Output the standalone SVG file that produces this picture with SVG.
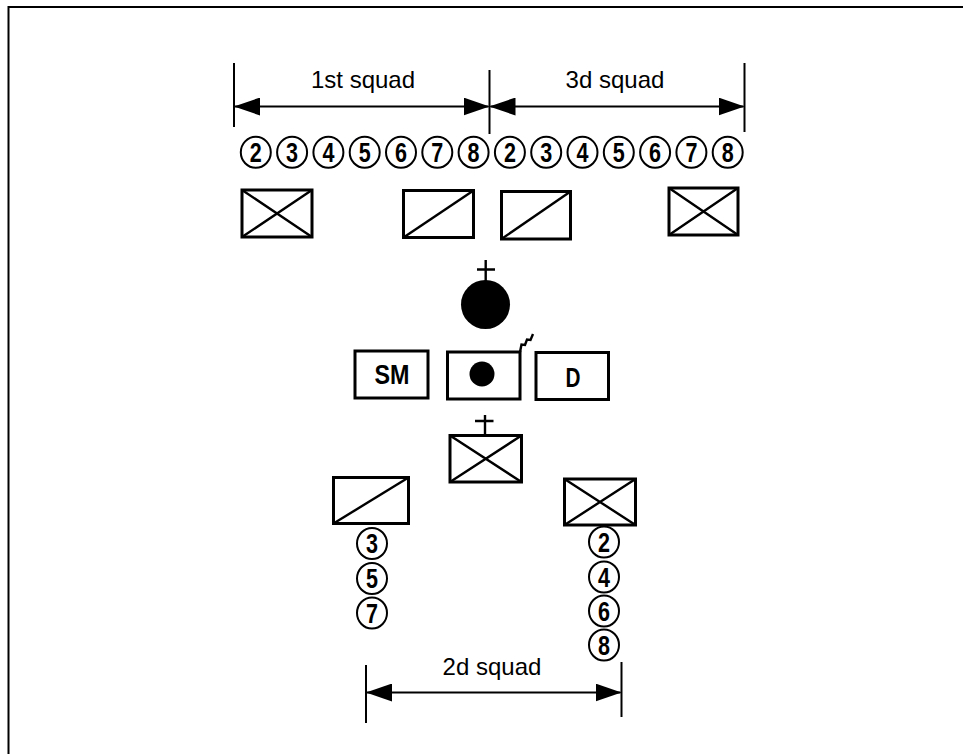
<svg xmlns="http://www.w3.org/2000/svg" width="963" height="754" viewBox="0 0 963 754">
<style>
.frame{fill:none;stroke:#000;stroke-width:2}
.box{fill:#fff;stroke:#000;stroke-width:3}
.diag{stroke:#000;stroke-width:2.4;fill:none}
.dim{stroke:#000;stroke-width:2;fill:none}
.lbl{font-family:"Liberation Sans",Arial,sans-serif;font-size:24px;text-anchor:middle;fill:#000}
.ring{fill:#fff;stroke:#000;stroke-width:2}
.dg{font-family:"Liberation Sans",Arial,sans-serif;font-weight:bold;font-size:27px;text-anchor:middle;fill:#000}
.bt{font-family:"Liberation Sans",Arial,sans-serif;font-weight:bold;font-size:27px;text-anchor:middle;fill:#000}
</style>
<defs>
<marker id="ah" markerUnits="userSpaceOnUse" markerWidth="26" markerHeight="18" refX="25" refY="9" orient="auto-start-reverse" viewBox="0 0 26 18">
<path d="M0,0 L26,9 L0,18 z" fill="#000"/>
</marker>
</defs>
<rect width="963" height="754" fill="#fff"/>
<path class="frame" d="M8.5,754 V7 H963"/>

<g id="connectors">
<line class="dim" x1="234" y1="63" x2="234" y2="127"/>
<line class="dim" x1="489.5" y1="70" x2="489.5" y2="134"/>
<line class="dim" x1="744.5" y1="63" x2="744.5" y2="132"/>
<line class="dim" x1="235" y1="106.5" x2="488.5" y2="106.5" marker-start="url(#ah)" marker-end="url(#ah)"/>
<line class="dim" x1="490.5" y1="106.5" x2="743.5" y2="106.5" marker-start="url(#ah)" marker-end="url(#ah)"/>
<line class="dim" x1="366" y1="665" x2="366" y2="723"/>
<line class="dim" x1="621.5" y1="662" x2="621.5" y2="717"/>
<line class="dim" x1="367" y1="692.5" x2="620.5" y2="692.5" marker-start="url(#ah)" marker-end="url(#ah)"/>
</g>

<g id="labels">
<text class="lbl" x="363" y="88">1st squad</text>
<text class="lbl" x="615" y="88">3d squad</text>
<text class="lbl" x="492" y="675">2d squad</text>
</g>

<g id="row-1st">
<ellipse class="ring" cx="255.8" cy="152.3" rx="15" ry="15.5"/><text class="dg" x="255.8" y="161.8" textLength="12" lengthAdjust="spacingAndGlyphs">2</text>
<ellipse class="ring" cx="292.1" cy="152.3" rx="15" ry="15.5"/><text class="dg" x="292.1" y="161.8" textLength="12" lengthAdjust="spacingAndGlyphs">3</text>
<ellipse class="ring" cx="328.4" cy="152.3" rx="15" ry="15.5"/><text class="dg" x="328.4" y="161.8" textLength="12" lengthAdjust="spacingAndGlyphs">4</text>
<ellipse class="ring" cx="364.7" cy="152.3" rx="15" ry="15.5"/><text class="dg" x="364.7" y="161.8" textLength="12" lengthAdjust="spacingAndGlyphs">5</text>
<ellipse class="ring" cx="401" cy="152.3" rx="15" ry="15.5"/><text class="dg" x="401" y="161.8" textLength="12" lengthAdjust="spacingAndGlyphs">6</text>
<ellipse class="ring" cx="437.3" cy="152.3" rx="15" ry="15.5"/><text class="dg" x="437.3" y="161.8" textLength="12" lengthAdjust="spacingAndGlyphs">7</text>
<ellipse class="ring" cx="473.6" cy="152.3" rx="15" ry="15.5"/><text class="dg" x="473.6" y="161.8" textLength="12" lengthAdjust="spacingAndGlyphs">8</text>
</g>
<g id="row-3d">
<ellipse class="ring" cx="509.9" cy="152.3" rx="15" ry="15.5"/><text class="dg" x="509.9" y="161.8" textLength="12" lengthAdjust="spacingAndGlyphs">2</text>
<ellipse class="ring" cx="546.2" cy="152.3" rx="15" ry="15.5"/><text class="dg" x="546.2" y="161.8" textLength="12" lengthAdjust="spacingAndGlyphs">3</text>
<ellipse class="ring" cx="582.5" cy="152.3" rx="15" ry="15.5"/><text class="dg" x="582.5" y="161.8" textLength="12" lengthAdjust="spacingAndGlyphs">4</text>
<ellipse class="ring" cx="618.8" cy="152.3" rx="15" ry="15.5"/><text class="dg" x="618.8" y="161.8" textLength="12" lengthAdjust="spacingAndGlyphs">5</text>
<ellipse class="ring" cx="655.1" cy="152.3" rx="15" ry="15.5"/><text class="dg" x="655.1" y="161.8" textLength="12" lengthAdjust="spacingAndGlyphs">6</text>
<ellipse class="ring" cx="691.4" cy="152.3" rx="15" ry="15.5"/><text class="dg" x="691.4" y="161.8" textLength="12" lengthAdjust="spacingAndGlyphs">7</text>
<ellipse class="ring" cx="727.7" cy="152.3" rx="15" ry="15.5"/><text class="dg" x="727.7" y="161.8" textLength="12" lengthAdjust="spacingAndGlyphs">8</text>
</g>

<g id="box-1">
<rect class="box" x="242" y="190" width="70" height="47"/>
<path class="diag" d="M242,190 L312,237 M242,237 L312,190"/>
</g>
<g id="box-2">
<rect class="box" x="403.5" y="190.5" width="70" height="47"/>
<path class="diag" d="M403.5,237.5 L473.5,190.5"/>
</g>
<g id="box-3">
<rect class="box" x="501.5" y="191.5" width="69" height="47.5"/>
<path class="diag" d="M501.5,239 L570.5,191.5"/>
</g>
<g id="box-4">
<rect class="box" x="669" y="188" width="69" height="47"/>
<path class="diag" d="M669,188 L738,235 M669,235 L738,188"/>
</g>

<g id="leader">
<circle cx="485.5" cy="304.5" r="24.5" fill="#000"/>
<path class="diag" d="M485.7,260 V281 M477,269.5 H495"/>
</g>

<g id="sm">
<rect class="box" x="355" y="351" width="73" height="47"/>
<text class="bt" x="392" y="384" textLength="35" lengthAdjust="spacingAndGlyphs">SM</text>
</g>
<g id="radio">
<rect class="box" x="447.5" y="352" width="72.5" height="47"/>
<circle cx="482" cy="374" r="12.5" fill="#000"/>
<polyline class="diag" points="520,352 521.5,344.5 525,345 527,339.5 530.5,340 533,334"/>
</g>
<g id="d">
<rect class="box" x="536" y="352.5" width="72.5" height="47"/>
<text class="bt" x="573" y="387" textLength="15" lengthAdjust="spacingAndGlyphs">D</text>
</g>

<g id="box-center">
<rect class="box" x="450" y="435.5" width="71.5" height="46.5"/>
<path class="diag" d="M450,435.5 L521.5,482 M450,482 L521.5,435.5"/>
<path class="diag" d="M485,415 V435.5 M475,421 H493.5"/>
</g>

<g id="box-left">
<rect class="box" x="333.5" y="477.5" width="75" height="46"/>
<path class="diag" d="M333.5,523.5 L408.5,477.5"/>
</g>
<g id="box-right">
<rect class="box" x="564.5" y="479" width="71" height="46"/>
<path class="diag" d="M564.5,479 L635.5,525 M564.5,525 L635.5,479"/>
</g>

<g id="col-left">
<ellipse class="ring" cx="372" cy="543.5" rx="15" ry="15.5"/><text class="dg" x="372" y="553" textLength="12" lengthAdjust="spacingAndGlyphs">3</text>
<ellipse class="ring" cx="372" cy="578.5" rx="15" ry="15.5"/><text class="dg" x="372" y="588" textLength="12" lengthAdjust="spacingAndGlyphs">5</text>
<ellipse class="ring" cx="372" cy="613" rx="15" ry="15.5"/><text class="dg" x="372" y="622.5" textLength="12" lengthAdjust="spacingAndGlyphs">7</text>
</g>
<g id="col-right">
<ellipse class="ring" cx="604" cy="542" rx="15" ry="15.5"/><text class="dg" x="604" y="551.5" textLength="12" lengthAdjust="spacingAndGlyphs">2</text>
<ellipse class="ring" cx="604" cy="577" rx="15" ry="15.5"/><text class="dg" x="604" y="586.5" textLength="12" lengthAdjust="spacingAndGlyphs">4</text>
<ellipse class="ring" cx="604" cy="611" rx="15" ry="15.5"/><text class="dg" x="604" y="620.5" textLength="12" lengthAdjust="spacingAndGlyphs">6</text>
<ellipse class="ring" cx="604" cy="645" rx="15" ry="15.5"/><text class="dg" x="604" y="654.5" textLength="12" lengthAdjust="spacingAndGlyphs">8</text>
</g>
</svg>
